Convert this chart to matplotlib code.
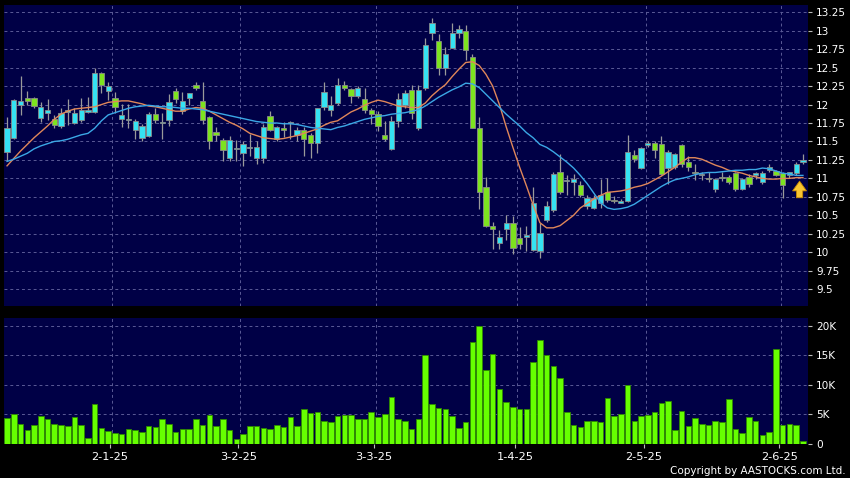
import numpy as np
import matplotlib
matplotlib.use("Agg")
import matplotlib.pyplot as plt
from matplotlib.ticker import FuncFormatter

# daily candles, index 0 = first bar on the left
opens = [11.36, 11.55, 12.00, 12.09, 12.09, 11.82, 11.89, 11.80, 11.71, 11.90,
         11.75, 11.79, 11.90, 11.90, 12.43, 12.18, 12.09, 11.80, 11.79, 11.66,
         11.55, 11.57, 11.87, 11.75, 11.79, 12.18, 11.91, 12.09, 12.26, 12.05,
         11.83, 11.63, 11.52, 11.28, 11.40, 11.35, 11.41, 11.28, 11.27, 11.84,
         11.53, 11.68, 11.75, 11.59, 11.65, 11.59, 11.48, 11.97, 11.92, 12.02,
         12.26, 12.21, 12.12, 12.07, 11.92, 11.87, 11.59, 11.40, 11.78, 12.00,
         12.20, 11.68, 12.23, 12.97, 12.86, 12.50, 12.77, 12.97, 12.99, 12.65,
         11.68, 10.88, 10.35, 10.13, 10.31, 10.39, 10.19, 10.20, 10.03, 10.02,
         10.44, 10.57, 11.08, 10.96, 10.95, 10.91, 10.62, 10.60, 10.66, 10.82,
         10.71, 10.67, 10.69, 11.32, 11.14, 11.45, 11.48, 11.46, 11.14, 11.15,
         11.45, 11.22, 11.08, 11.05, 11.00, 10.85, 11.02, 11.02, 11.07, 10.85,
         11.02, 11.05, 10.95, 11.12, 11.10, 11.07, 11.04, 11.07, 11.22]
highs = [11.83, 12.07, 12.39, 12.18, 12.10, 12.04, 12.08, 11.86, 11.95, 12.08,
         11.95, 12.09, 12.10, 12.50, 12.44, 12.31, 12.17, 12.01, 12.01, 11.80,
         11.73, 11.90, 11.96, 11.89, 12.14, 12.22, 12.17, 12.16, 12.31, 12.30,
         11.85, 11.69, 11.55, 11.57, 11.52, 11.50, 11.60, 11.50, 11.73, 11.91,
         11.71, 11.76, 11.78, 11.70, 11.69, 11.62, 11.96, 12.30, 12.12, 12.36,
         12.32, 12.23, 12.25, 12.23, 11.96, 11.91, 11.78, 11.84, 12.16, 12.20,
         12.26, 12.26, 12.90, 13.17, 12.96, 12.78, 13.10, 13.08, 13.08, 12.69,
         11.83, 11.02, 10.41, 10.30, 10.50, 10.49, 10.34, 10.35, 10.89, 10.39,
         10.70, 11.08, 11.33, 11.04, 11.06, 10.97, 10.77, 10.77, 10.99, 11.00,
         10.76, 10.72, 11.59, 11.38, 11.42, 11.50, 11.50, 11.58, 11.38, 11.35,
         11.47, 11.31, 11.20, 11.09, 11.08, 11.00, 11.08, 11.04, 11.08, 11.00,
         11.06, 11.08, 11.10, 11.19, 11.12, 11.09, 11.09, 11.22, 11.33]
lows = [11.23, 11.54, 11.86, 11.99, 11.95, 11.77, 11.79, 11.68, 11.68, 11.72,
        11.74, 11.77, 11.89, 11.88, 12.15, 12.06, 11.88, 11.70, 11.68, 11.54,
        11.50, 11.56, 11.75, 11.53, 11.71, 12.02, 11.87, 12.00, 12.20, 11.74,
        11.40, 11.50, 11.24, 11.24, 11.23, 11.17, 11.31, 11.20, 11.21, 11.64,
        11.50, 11.56, 11.54, 11.50, 11.30, 11.28, 11.35, 11.93, 11.84, 12.00,
        12.20, 12.02, 12.09, 11.88, 11.73, 11.64, 11.50, 11.39, 11.69, 11.96,
        11.80, 11.66, 12.20, 12.87, 12.40, 12.40, 12.76, 12.90, 12.60, 11.68,
        10.59, 10.34, 10.05, 10.05, 10.16, 9.98, 10.05, 10.02, 10.02, 9.92,
        10.41, 10.55, 10.79, 10.77, 10.78, 10.75, 10.58, 10.58, 10.60, 10.68,
        10.66, 10.66, 10.68, 11.22, 11.13, 11.43, 11.28, 11.04, 10.93, 11.13,
        11.15, 11.10, 10.98, 10.98, 10.95, 10.82, 10.97, 10.93, 10.83, 10.84,
        10.88, 10.99, 10.93, 11.09, 11.03, 10.73, 11.01, 11.05, 11.20]
closes = [11.68, 12.06, 12.05, 12.05, 11.98, 11.97, 11.93, 11.72, 11.89, 11.93,
          11.89, 11.93, 11.92, 12.43, 12.27, 12.25, 11.97, 11.86, 11.81, 11.78,
          11.71, 11.87, 11.79, 11.76, 12.03, 12.07, 12.05, 12.15, 12.22, 11.79,
          11.51, 11.59, 11.39, 11.52, 11.41, 11.47, 11.42, 11.42, 11.69, 11.66,
          11.69, 11.66, 11.76, 11.66, 11.53, 11.48, 11.96, 12.17, 11.99, 12.26,
          12.23, 12.12, 12.22, 11.92, 11.87, 11.71, 11.53, 11.78, 12.08, 12.16,
          11.89, 12.20, 12.81, 13.10, 12.50, 12.68, 12.97, 13.03, 12.74, 11.68,
          10.82, 10.35, 10.31, 10.20, 10.39, 10.06, 10.11, 10.23, 10.66, 10.26,
          10.62, 11.06, 10.82, 10.98, 10.99, 10.77, 10.73, 10.74, 10.77, 10.71,
          10.70, 10.69, 11.36, 11.26, 11.41, 11.48, 11.38, 11.06, 11.36, 11.33,
          11.20, 11.15, 11.07, 11.06, 10.99, 10.99, 11.01, 10.95, 10.85, 10.99,
          10.92, 11.07, 11.07, 11.15, 11.05, 10.91, 11.08, 11.20, 11.25]

# volume in thousands of shares
volume_k = [4.4, 5.1, 3.4, 2.3, 3.1, 4.7, 4.1, 3.4, 3.2, 3.0,
            4.5, 3.1, 0.9, 6.8, 2.7, 2.2, 1.8, 1.6, 2.4, 2.3,
            1.9, 2.9, 2.8, 4.1, 3.3, 2.0, 2.4, 2.4, 4.1, 3.1,
            4.9, 2.9, 4.2, 2.3, 0.7, 1.7, 2.9, 2.9, 2.7, 2.4,
            3.1, 2.8, 4.5, 3.0, 5.8, 5.2, 5.3, 3.9, 3.6, 4.6,
            4.9, 4.9, 4.2, 4.1, 5.3, 4.5, 5.1, 7.9, 4.2, 3.9,
            2.4, 4.1, 15.0, 6.8, 6.1, 5.8, 4.6, 2.6, 3.7, 17.3,
            20.0, 12.5, 15.3, 9.2, 7.1, 6.2, 5.9, 5.9, 13.9, 17.6,
            15.1, 13.2, 11.1, 5.3, 3.2, 2.8, 3.9, 3.9, 3.7, 7.7,
            4.7, 5.1, 9.9, 3.8, 4.7, 4.8, 5.3, 6.9, 7.3, 2.3,
            5.5, 2.9, 4.4, 3.4, 3.2, 3.8, 3.6, 7.5, 2.4, 1.8,
            4.5, 3.8, 1.4, 2.0, 16.0, 3.1, 3.4, 3.1, 0.4]

# moving averages as drawn on the chart (orange = short, blue = long)
ma_short = [11.17, 11.27, 11.37, 11.46, 11.55, 11.63, 11.71, 11.80, 11.87, 11.91,
            11.94, 11.95, 11.96, 11.97, 12.00, 12.03, 12.04, 12.05, 12.05, 12.03,
            12.01, 11.98, 11.97, 11.95, 11.93, 11.91, 11.91, 11.94, 11.96, 11.95,
            11.91, 11.86, 11.81, 11.76, 11.72, 11.67, 11.61, 11.58, 11.55, 11.54,
            11.53, 11.54, 11.56, 11.58, 11.61, 11.64, 11.67, 11.72, 11.76, 11.78,
            11.84, 11.90, 11.94, 11.99, 12.03, 12.06, 12.04, 12.01, 11.98, 11.97,
            11.96, 11.96, 12.02, 12.12, 12.20, 12.27, 12.38, 12.48, 12.57, 12.58,
            12.53, 12.41, 12.25, 12.00, 11.70, 11.42, 11.15, 10.90, 10.64, 10.40,
            10.33, 10.33, 10.36, 10.43, 10.50, 10.60, 10.66, 10.72, 10.77, 10.81,
            10.82, 10.83, 10.85, 10.88, 10.90, 10.93, 10.98, 11.03, 11.09, 11.15,
            11.22, 11.28, 11.28, 11.26, 11.22, 11.18, 11.15, 11.11, 11.09, 11.07,
            11.04, 11.02, 11.00, 10.99, 10.99, 11.00, 11.00, 11.01, 11.01]
ma_long = [11.23, 11.26, 11.30, 11.34, 11.40, 11.44, 11.47, 11.50, 11.51, 11.53,
           11.56, 11.59, 11.61, 11.68, 11.78, 11.86, 11.89, 11.92, 11.95, 11.97,
           11.98, 11.99, 11.98, 11.97, 11.97, 11.96, 11.95, 11.95, 11.94, 11.93,
           11.91, 11.89, 11.87, 11.85, 11.83, 11.81, 11.79, 11.77, 11.76, 11.75,
           11.75, 11.74, 11.74, 11.73, 11.71, 11.69, 11.68, 11.67, 11.66, 11.69,
           11.71, 11.74, 11.77, 11.80, 11.82, 11.84, 11.85, 11.87, 11.88, 11.89,
           11.91, 11.93, 11.98, 12.04, 12.10, 12.15, 12.20, 12.24, 12.29, 12.28,
           12.23, 12.14, 12.05, 11.96, 11.87, 11.79, 11.71, 11.62, 11.55, 11.46,
           11.42, 11.36, 11.29, 11.22, 11.14, 11.04, 10.93, 10.80, 10.67, 10.60,
           10.58, 10.59, 10.61, 10.65, 10.71, 10.77, 10.83, 10.89, 10.94, 10.98,
           11.00, 11.02, 11.05, 11.07, 11.08, 11.08, 11.09, 11.10, 11.11, 11.11,
           11.12, 11.12, 11.14, 11.13, 11.10, 11.07, 11.06, 11.04, 11.04]

date_labels = ["2-1-25", "3-2-25", "3-3-25", "1-4-25", "2-5-25", "2-6-25"]
date_pos = [15.2, 34.3, 54.4, 75.3, 94.4, 114.5]
price_ticks = [9.5, 9.75, 10, 10.25, 10.5, 10.75, 11, 11.25, 11.5, 11.75,
               12, 12.25, 12.5, 12.75, 13, 13.25]
vol_ticks = [0, 5, 10, 15, 20]
signal_x, signal_y = 117.5, 11.0   # yellow arrow

BG = "#000046"
GRID = "#5a5a96"
UP = "#35e2f2"
DOWN = "#7de31f"
WICK = "#9a9a9a"

o = np.array(opens)
h = np.array(highs)
l = np.array(lows)
c = np.array(closes)
x = np.arange(len(o))
up = c >= o

fig = plt.figure(figsize=(8.5, 4.78), dpi=100, facecolor="black")
ax = fig.add_axes([4 / 850, 1 - 306 / 478, 804 / 850, 301 / 478])
axv = fig.add_axes([4 / 850, 1 - 443.5 / 478, 804 / 850, 125.5 / 478])

for a in (ax, axv):
    a.set_facecolor(BG)
    for s in a.spines.values():
        s.set_visible(False)
    a.set_xlim(-0.45, 118.75)
    a.yaxis.tick_right()
    a.tick_params(axis="y", colors="#bbbbbb", labelcolor="white",
                  length=3, width=0.8, pad=3, labelsize=7.6)
    for p in date_pos:
        a.axvline(p + 0.3, color=GRID, lw=0.7, ls=(0, (3, 3)), zorder=0)
    a.grid(axis="y", color=GRID, lw=0.7, ls=(0, (3, 3)), zorder=0)
    a.set_axisbelow(True)

# price panel
ax.set_ylim(9.271, 13.349)
ax.set_yticks(price_ticks)
ax.yaxis.set_major_formatter(FuncFormatter(lambda v, p: "{:g}".format(v)))
ax.set_xticks([])

ax.vlines(x, l, h, color=WICK, lw=0.9, zorder=2)
body_lo = np.minimum(o, c)
body_h = np.maximum(np.abs(c - o), 0.012)
ax.bar(x, body_h, bottom=body_lo, width=0.78,
       color=np.where(up, UP, DOWN), edgecolor="#8a8a8a", linewidth=0.6, zorder=3)

ax.plot(x, ma_short, color="#e0875a", lw=1.0, zorder=4)
ax.plot(x, ma_long, color="#3ba8e6", lw=1.0, zorder=4)

ax.annotate("", xy=(signal_x, signal_y), xytext=(signal_x, signal_y - 0.30),
            arrowprops=dict(arrowstyle="simple,head_length=0.7,head_width=1.0,tail_width=0.45",
                            fc="#f8c531", ec="#c98a00", lw=0.6, mutation_scale=10),
            zorder=6)

# volume panel
axv.set_ylim(0, 21.34)
axv.set_yticks(vol_ticks)
axv.yaxis.set_major_formatter(FuncFormatter(lambda v, p: "0" if v == 0 else "{:g}K".format(v)))
axv.bar(x, volume_k, width=0.82, color="#66ff00", edgecolor="#2f8a00", linewidth=0.6, zorder=3)
axv.set_xticks(date_pos)
axv.set_xticklabels(date_labels)
axv.tick_params(axis="x", colors="#bbbbbb", labelcolor="white",
                length=3, width=0.8, pad=3, labelsize=8.2)

fig.text(846 / 850, 1 - 471.5 / 478, "Copyright by AASTOCKS.com Ltd.",
         color="white", fontsize=7.5, ha="right", va="center")

fig.savefig("out.png", dpi=100, facecolor="black")
